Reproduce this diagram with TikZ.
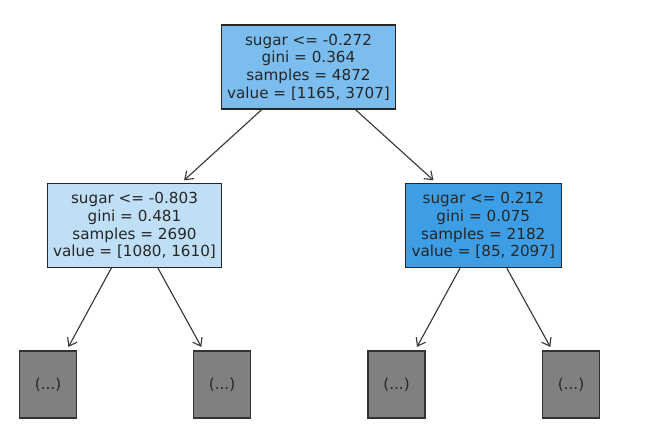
\documentclass[tikz,border=0pt]{standalone}
\usepackage{fontspec}
\setmainfont{DejaVu Sans}
\usetikzlibrary{arrows.meta}
\definecolor{rootblue}{RGB}{123,189,238}
\definecolor{paleblue}{RGB}{190,223,246}
\definecolor{deepblue}{RGB}{61,158,229}
\definecolor{leafgray}{RGB}{128,128,128}
\definecolor{edgegray}{RGB}{56,56,56}
\tikzset{
  split/.style={draw=black!85,line width=0.8pt,rectangle,align=center,inner sep=0pt,
    minimum width=131pt,minimum height=63pt,font=\fontsize{11.4}{13.3}\selectfont,text=black!85},
  leaf/.style={draw=black!80,line width=1.1pt,rectangle,fill=leafgray,inner sep=0pt,
    minimum width=43pt,minimum height=50pt,font=\fontsize{11.4}{13.3}\selectfont,text=black!85},
  branch/.style={draw=edgegray,line width=0.85pt,-{Straight Barb[length=5.5pt,width=8pt]},shorten >=3pt}
}
\begin{document}
\begin{tikzpicture}[x=0.75pt,y=-0.75pt]
				\useasboundingbox (0,0) rectangle (647,448);
				% splits
				\node[split,fill=rootblue] (root) at (308.5,67) {sugar <= -0.272\\gini = 0.364\\samples = 4872\\value = [1165, 3707]};
				\node[split,fill=paleblue] (lft) at (134.5,225.5) {sugar <= -0.803\\gini = 0.481\\samples = 2690\\value = [1080, 1610]};
				\node[split,fill=deepblue,minimum width=117pt] (rgt) at (483.3,225.5) {sugar <= 0.212\\gini = 0.075\\samples = 2182\\value = [85, 2097]};
				% truncated leaves
				\node[leaf] (lftl) at (48,384.5) {(...)};
				\node[leaf] (lftr) at (222,384.5) {(...)};
				\node[leaf] (rgtl) at (396.5,384.5) {(...)};
				\node[leaf] (rgtr) at (571,384.5) {(...)};
				% edges
				\draw[branch] (root) -- (lft);
				\draw[branch] (root) -- (rgt);
				\draw[branch] (lft) -- (lftl);
				\draw[branch] (lft) -- (lftr);
				\draw[branch] (rgt) -- (rgtl);
				\draw[branch] (rgt) -- (rgtr);
			\end{tikzpicture}
\end{document}
